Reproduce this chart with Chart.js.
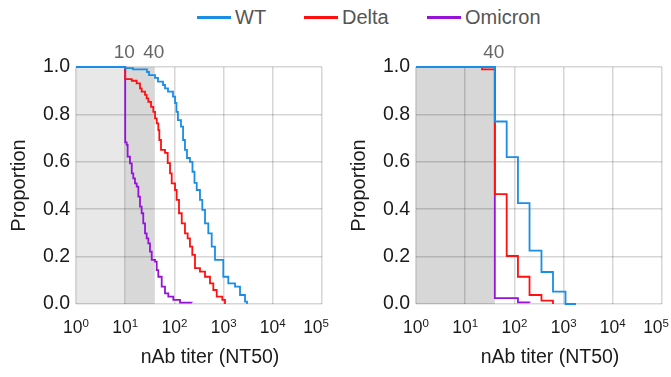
<!DOCTYPE html>
<html>
<head>
<meta charset="utf-8">
<script src="https://cdn.jsdelivr.net/npm/chart.js@4.4.0/dist/chart.umd.min.js"></script>
<style>
  body { margin: 0; width: 671px; height: 377px; overflow: hidden; background: #fff; position: relative;
         font-family: "Liberation Sans", Arial, sans-serif; }
  .panel { position: absolute; top: 0; width: 340px; height: 377px; }
  .leg { position: absolute; top: 6px; height: 22px; display: flex; align-items: center; font-size: 20px; color: #555; }
  .leg .sw { display: inline-block; width: 34px; height: 3px; margin-right: 4px; }
</style>
</head>
<body>
<div id="legend"></div>
<div class="panel" style="left:0"><canvas id="chartA"></canvas></div>
<div class="panel" style="left:340px"><canvas id="chartB"></canvas></div>
<script>
// series
const seriesNames = ['WT', 'Delta', 'Omicron'];
const seriesColors = ['#1a8de6', '#ff1010', '#9612d8'];

// left panel: titer where each step happens, proportion after the step
const titerA_WT = [1, 10, 14.4, 27.7, 30.5, 40.4, 46.4, 58.7, 64.4, 74.1, 93.6, 103, 110, 118, 136, 150, 164, 180, 207, 233,
  256, 284, 331, 369, 419, 489, 573, 668, 986, 1246, 1706, 2155, 2723, 2990];
const propA_WT = [1.0, 0.995, 0.990, 0.979, 0.966, 0.954, 0.938, 0.924, 0.910, 0.896, 0.875, 0.848, 0.811, 0.776, 0.748, 0.692, 0.650, 0.616, 0.600, 0.558,
  0.511, 0.481, 0.439, 0.397, 0.340, 0.298, 0.242, 0.186, 0.115, 0.087, 0.073, 0.038, 0.010, 0.0];

const titerA_Delta = [1, 10, 13.6, 17.1, 20.0, 21.6, 25.3, 27.3, 29.5, 33.5, 37.3, 40.4, 43.7, 47.1, 49.4, 53.4, 64.4, 73.1, 81.5, 88.2,
  103, 111, 124, 141, 164, 186, 207, 231, 262, 331, 419, 529, 618, 724, 941, 1067];
const propA_Delta = [1.0, 0.949, 0.942, 0.931, 0.910, 0.896, 0.882, 0.868, 0.853, 0.832, 0.811, 0.783, 0.762, 0.734, 0.692, 0.650, 0.638, 0.594, 0.551, 0.509,
  0.481, 0.439, 0.383, 0.340, 0.298, 0.277, 0.242, 0.207, 0.151, 0.137, 0.115, 0.087, 0.059, 0.031, 0.017, 0.0];

const titerA_Omicron = [1, 10, 10.7, 11.2, 12.5, 13.6, 14.6, 15.8, 17.1, 18.5, 20.0, 21.6, 23.3, 25.3, 27.3, 29.5, 31.9, 34.6, 40.4, 43.7,
  47.1, 55.2, 64.4, 75.2, 95, 130, 225];
const propA_Omicron = [1.0, 0.682, 0.671, 0.622, 0.593, 0.551, 0.530, 0.509, 0.495, 0.453, 0.411, 0.383, 0.340, 0.298, 0.277, 0.256, 0.221, 0.186, 0.179, 0.143,
  0.115, 0.073, 0.045, 0.031, 0.017, 0.006, 0.005];

// right panel
const titerB_WT = [1, 40, 69.7, 118, 203, 355, 609, 1093, 1786];
const propB_WT = [1.0, 0.77, 0.62, 0.426, 0.225, 0.135, 0.052, 0.0, 0.0];
const titerB_Delta = [1, 22, 40, 69.7, 118, 203, 355, 609];
const propB_Delta = [1.0, 0.99, 0.464, 0.2025, 0.115, 0.038, 0.014, 0.0];
const titerB_Omicron = [1, 40, 118, 203];
const propB_Omicron = [1.0, 0.025, 0.007, 0.005];

// axes
const xTickValues = [1, 10, 100, 1000, 10000, 100000];
const xTickExponents = ['0', '1', '2', '3', '4', '5'];
const xTitle = 'nAb titer (NT50)';
const yTitle = 'Proportion';

// shaded cutoff ranges and the labels over them
const bandsA = [{ from: 1, to: 10, color: '#e8e8e8' }, { from: 10, to: 40, color: '#d8d8d8' }];
const bandsB = [{ from: 1, to: 40, color: '#d7d7d7' }];
const cutoffsA = [10, 40];
const cutoffsB = [40];

const FONT = '"Liberation Sans", Arial, sans-serif';

// legend
const legend = document.getElementById('legend');
const legendLeft = [197, 304, 427];
seriesNames.forEach((name, i) => {
  const d = document.createElement('div');
  d.className = 'leg';
  d.style.left = legendLeft[i] + 'px';
  d.innerHTML = '<span class="sw" style="background:' + seriesColors[i] + '"></span>' + name;
  legend.appendChild(d);
});

const cutoffPlugin = {
  id: 'cutoffs',
  beforeDraw(chart, args, opts) {
    const { ctx, chartArea, scales: { x } } = chart;
    ctx.save();
    opts.bands.forEach(b => {
      const x0 = x.getPixelForValue(b.from);
      const x1 = x.getPixelForValue(b.to);
      ctx.fillStyle = b.color;
      ctx.fillRect(x0, chartArea.top, x1 - x0, chartArea.bottom - chartArea.top);
    });
    ctx.restore();
  },
  afterDraw(chart, args, opts) {
    const { ctx, chartArea, scales: { x } } = chart;
    ctx.save();
    ctx.font = '19px ' + FONT;
    ctx.fillStyle = '#666';
    ctx.textAlign = 'center';
    ctx.textBaseline = 'middle';
    opts.labels.forEach(v => ctx.fillText(String(v), x.getPixelForValue(v) - 1, chartArea.top - 14));

    // x tick labels as 10 with a raised exponent
    ctx.fillStyle = '#1a1a1a';
    ctx.textAlign = 'left';
    ctx.textBaseline = 'alphabetic';
    const baseY = chartArea.bottom + 29;
    x.ticks.forEach(t => {
      const i = xTickValues.indexOf(t.value);
      if (i < 0) return;
      ctx.font = '17.5px ' + FONT;
      const wb = ctx.measureText('10').width;
      ctx.font = '11.5px ' + FONT;
      const we = ctx.measureText(xTickExponents[i]).width;
      let left = x.getPixelForValue(t.value) - (wb + we) / 2;
      left = Math.min(left, chartArea.right + 7 - wb - we);
      ctx.font = '17.5px ' + FONT;
      ctx.fillText('10', left, baseY);
      ctx.font = '11.5px ' + FONT;
      ctx.fillText(xTickExponents[i], left + wb, baseY - 6.5);
    });

    // x axis title, sits a little right of the plot centre in the original
    ctx.font = '19.5px ' + FONT;
    ctx.textAlign = 'center';
    ctx.textBaseline = 'middle';
    ctx.fillText(xTitle, (chartArea.left + chartArea.right) / 2 + 11, 358);
    ctx.restore();
  }
};

function makePanel(canvasId, titers, props, bands, cutoffs) {
  const datasets = seriesNames.map((name, i) => ({
    label: name,
    data: titers[i].map((t, j) => ({ x: t, y: props[i][j] })),
    borderColor: seriesColors[i],
    borderWidth: 1.8,
    pointRadius: 0,
    stepped: true,
    fill: false,
    clip: false
  }));

  new Chart(document.getElementById(canvasId), {
    type: 'line',
    data: { datasets: datasets },
    options: {
      responsive: true,
      maintainAspectRatio: false,
      animation: false,
      layout: { padding: { top: 67, right: 18, bottom: 0, left: 0 } },
      plugins: {
        legend: { display: false },
        tooltip: { enabled: false },
        cutoffs: { bands: bands, labels: cutoffs }
      },
      scales: {
        x: {
          type: 'logarithmic',
          min: 1,
          max: 100000,
          border: { display: false },
          grid: { color: 'rgba(0,0,0,0.16)', lineWidth: 1.5, drawTicks: false },
          afterBuildTicks: scale => { scale.ticks = xTickValues.map(v => ({ value: v })); },
          afterFit: scale => { scale.height = 73; scale.paddingLeft = 0; scale.paddingRight = 0; },
          ticks: { autoSkip: false, maxRotation: 0, callback: () => '' }
        },
        y: {
          min: 0,
          max: 1,
          border: { display: false },
          afterFit: scale => { scale.width = 76; },
          grid: {
            lineWidth: 1.5,
            drawTicks: false,
            color: c => {
              const k = Math.round(c.tick.value * 10);
              return (k % 2 === 1 && k !== 5) ? 'rgba(0,0,0,0)' : 'rgba(0,0,0,0.16)';
            }
          },
          ticks: {
            stepSize: 0.1,
            padding: 6,
            color: '#1a1a1a',
            font: { family: FONT, size: 19.5 },
            callback: v => (Math.round(v * 10) % 2 === 0 ? v.toFixed(1) : '')
          },
          title: {
            display: true,
            text: yTitle,
            color: '#1a1a1a',
            font: { family: FONT, size: 20 },
            padding: { top: 7, bottom: 0 }
          }
        }
      }
    },
    plugins: [cutoffPlugin]
  });
}

makePanel('chartA', [titerA_WT, titerA_Delta, titerA_Omicron], [propA_WT, propA_Delta, propA_Omicron], bandsA, cutoffsA);
makePanel('chartB', [titerB_WT, titerB_Delta, titerB_Omicron], [propB_WT, propB_Delta, propB_Omicron], bandsB, cutoffsB);
</script>
</body>
</html>
